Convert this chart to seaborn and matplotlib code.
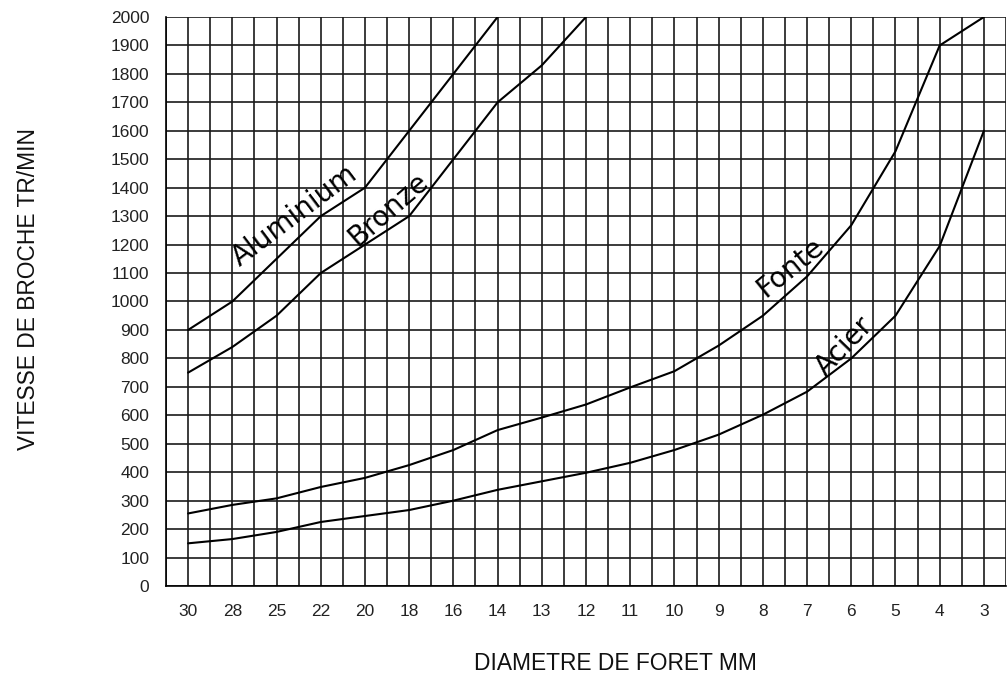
import pandas as pd
import numpy as np
import matplotlib.pyplot as plt
import seaborn as sns

# drill diameters (mm) along the x axis
diametres = ['30', '28', '25', '22', '20', '18', '16', '14', '13', '12',
             '11', '10', '9', '8', '7', '6', '5', '4', '3']

# spindle speed (tr/min), one list per material
aluminium = [900, 1000, 1150, 1300, 1400, 1600, 1800, 2000]
bronze = [750, 840, 950, 1100, 1200, 1300, 1500, 1700, 1830, 2000]
fonte = [255, 285, 308, 348, 380, 425, 478, 548, 592, 638,
         698, 755, 845, 950, 1088, 1268, 1528, 1900, 2000]
acier = [150, 165, 190, 225, 246, 267, 300, 338, 368, 398,
         433, 478, 532, 602, 683, 800, 950, 1195, 1600]

series = {'Aluminium': aluminium, 'Bronze': bronze, 'Fonte': fonte, 'Acier': acier}

rows = []
for name, vals in series.items():
    for i, v in enumerate(vals):
        rows.append({'pos': i, 'diametre': diametres[i], 'vitesse': v, 'metal': name})
df = pd.DataFrame(rows)

sns.set_style('white')
plt.rcParams['font.family'] = ['Liberation Sans', 'DejaVu Sans']

fig = plt.figure(figsize=(10.07, 6.82), dpi=100)
ax = fig.add_axes([166 / 1007, 96 / 682, 840 / 1007, 569 / 682])

sns.lineplot(data=df, x='pos', y='vitesse', hue='metal', units='metal', estimator=None,
             palette=['black'] * 4, linewidth=1.5, legend=False, ax=ax)

n = len(diametres)
ax.set_xlim(-0.5, n - 0.5 - 7 / 44.67)
ax.set_ylim(0, 2000)

# labels at category centres, ticks at category boundaries
ax.set_xticks(np.arange(n))
ax.set_xticklabels(diametres)
ax.set_xticks(np.arange(n + 1) - 0.5, minor=True)
ax.set_yticks(np.arange(0, 2001, 100))
ax.tick_params(axis='x', which='major', length=0, pad=13, labelsize=12.5, labelcolor='#222222')
ax.tick_params(axis='x', which='minor', length=6, width=1.2, color='black', direction='out')
ax.tick_params(axis='y', length=6, width=1.2, color='black', direction='out', pad=6,
               labelsize=12.5, labelcolor='#222222')

ax.grid(True, axis='x', which='both', color='#1a1a1a', linewidth=1.2)
ax.grid(True, axis='y', which='major', color='#1a1a1a', linewidth=1.2)
ax.set_axisbelow(True)

for s in ['top', 'right']:
    ax.spines[s].set_visible(False)
for s in ['left', 'bottom']:
    ax.spines[s].set_color('black')
    ax.spines[s].set_linewidth(1.2)

ax.set_xlabel('DIAMETRE DE FORET MM', fontsize=16.4, color='#111111')
ax.set_ylabel('VITESSE DE BROCHE TR/MIN', fontsize=16.4, color='#111111')
ax.xaxis.set_label_coords(0.535, -0.116)
ax.yaxis.set_label_coords(-0.150, 0.522)

lab = dict(fontsize=20, family='DejaVu Sans', ha='center', va='center',
           rotation_mode='anchor', color='black')
ax.text(2.40, 1300, 'Aluminium', rotation=37, **lab)
ax.text(4.54, 1325, 'Bronze', rotation=41, **lab)
ax.text(13.61, 1120, 'Fonte', rotation=39, **lab)
ax.text(14.84, 842, 'Acier', rotation=46, **lab)

fig.savefig('out.png', dpi=100)
